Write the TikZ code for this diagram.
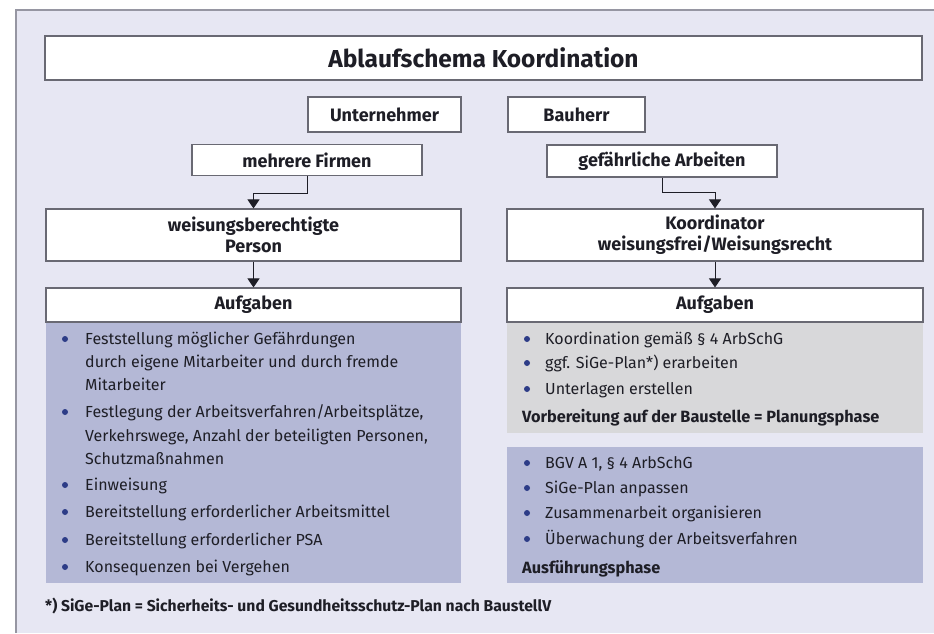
\documentclass[tikz,border=0pt]{standalone}
\usepackage{fontspec}
\setmainfont{Fira Sans}
\usetikzlibrary{arrows.meta}
\definecolor{kbg}{RGB}{231,231,243}
\definecolor{kframe}{RGB}{150,150,162}
\definecolor{kline}{RGB}{105,105,115}
\definecolor{kblue}{RGB}{180,184,214}
\definecolor{kgray}{RGB}{216,216,218}
\definecolor{kdotc}{RGB}{45,60,135}
\definecolor{ktxt}{RGB}{30,30,38}

\begin{document}
\begin{tikzpicture}[x=1pt, y=-1pt,
  kbox/.style={draw=kline, fill=white, line width=1.1pt, inner sep=0pt, align=center,
    text=ktxt, font=\bfseries\fontsize{18}{21}\selectfont},
  kpanel/.style={inner sep=0pt, anchor=north west},
  ktext/.style={anchor=base west, inner sep=0pt, text=ktxt, font=\fontsize{16}{19}\selectfont},
  khead/.style={ktext, font=\bfseries\fontsize{16.3}{19}\selectfont},
  kdot/.style={circle, fill=kdotc, inner sep=0pt, minimum size=6pt},
  karrow/.style={-{Triangle[width=12pt,length=9pt]}, line width=1pt, draw=ktxt}]
\useasboundingbox (0,0) rectangle (934,633);

% background frame
\fill[kbg] (16,10) rectangle (934,633);
\draw[kframe, line width=1.2pt] (934,10) -- (16,10) -- (16,633);

% title
\node[kbox, minimum width=877pt, minimum height=44pt,
  font=\bfseries\fontsize{24.5}{28}\selectfont] (title) at (483.5,58) {Ablaufschema Koordination};

% parties
\node[kbox, minimum width=153pt, minimum height=35pt] (unt) at (384.5,114.5) {Unternehmer};
\node[kbox, minimum width=137pt, minimum height=35pt] (bau) at (576.5,114.5) {Bauherr};
\node[kbox, minimum width=230pt, minimum height=31pt] (firmen) at (307,160) {mehrere Firmen};
\node[kbox, minimum width=230pt, minimum height=32pt] (gefahr) at (662,161) {gefährliche Arbeiten};

% responsible persons
\node[kbox, minimum width=415pt, minimum height=52pt] (person) at (253.5,235)
  {weisungsberechtigte\\Person};
\node[kbox, minimum width=416pt, minimum height=52pt] (koord) at (715,235)
  {Koordinator\\weisungsfrei/Weisungsrecht};

% panels
\node[kpanel, fill=kblue, minimum width=415pt, minimum height=261pt] (listL) at (46,322) {};
\node[kpanel, fill=kgray, minimum width=416pt, minimum height=111pt] (listR) at (507,322) {};
\node[kpanel, fill=kblue, minimum width=416pt, minimum height=136pt] (listA) at (507,447) {};

% tasks
\node[kbox, minimum width=415pt, minimum height=34pt] (aufgL) at (253.5,305) {Aufgaben};
\node[kbox, minimum width=416pt, minimum height=34pt] (aufgR) at (715,305) {Aufgaben};

% arrows
\draw[karrow] (firmen.south) -- ++(0,17) -| (person.north);
\draw[karrow] (gefahr.south) -- ++(0,15) -| (koord.north);
\draw[karrow] (person) -- (aufgL);
\draw[karrow] (koord) -- (aufgR);

% left list
\foreach \n/\y in {1/339, 2/412, 3/485, 4/512, 5/540, 6/567}
  \node[kdot] (bL\n) at (65,\y) {};
\foreach \n/\y/\t in {a/344/{Feststellung möglicher Gefährdungen},
    b/367/{durch eigene Mitarbeiter und durch fremde},
    c/390/{Mitarbeiter},
    d/417/{Festlegung der Arbeitsverfahren/Arbeitsplätze,},
    e/441/{Verkehrswege, Anzahl der beteiligten Personen,},
    f/464/{Schutzmaßnahmen},
    g/490/{Einweisung},
    h/517/{Bereitstellung erforderlicher Arbeitsmittel},
    i/545/{Bereitstellung erforderlicher PSA},
    j/572/{Konsequenzen bei Vergehen}}
  \node[ktext] (L\n) at (85,\y) {\t};

% right list, planning
\foreach \n/\y in {1/339, 2/363, 3/389}
  \node[kdot] (bR\n) at (527,\y) {};
\foreach \n/\y/\t in {a/344/{Koordination gemäß § 4 ArbSchG},
    b/368/{ggf. SiGe-Plan*) erarbeiten},
    c/394/{Unterlagen erstellen}}
  \node[ktext] (R\n) at (545,\y) {\t};
\node[khead] (plan) at (522,422) {Vorbereitung auf der Baustelle = Planungsphase};

% right list, execution
\foreach \n/\y in {1/463, 2/488, 3/513, 4/539}
  \node[kdot] (bA\n) at (527,\y) {};
\foreach \n/\y/\t in {a/468/{BGV A 1, § 4 ArbSchG},
    b/493/{SiGe-Plan anpassen},
    c/518/{Zusammenarbeit organisieren},
    d/544/{Überwachung der Arbeitsverfahren}}
  \node[ktext] (A\n) at (545,\y) {\t};
\node[khead] (ausf) at (522,573) {Ausführungsphase};

% footnote
\node[khead, font=\bfseries\fontsize{15.7}{18}\selectfont] (fn) at (45,611)
  {*) SiGe-Plan = Sicherheits- und Gesundheitsschutz-Plan nach BaustellV};
\end{tikzpicture}
\end{document}
